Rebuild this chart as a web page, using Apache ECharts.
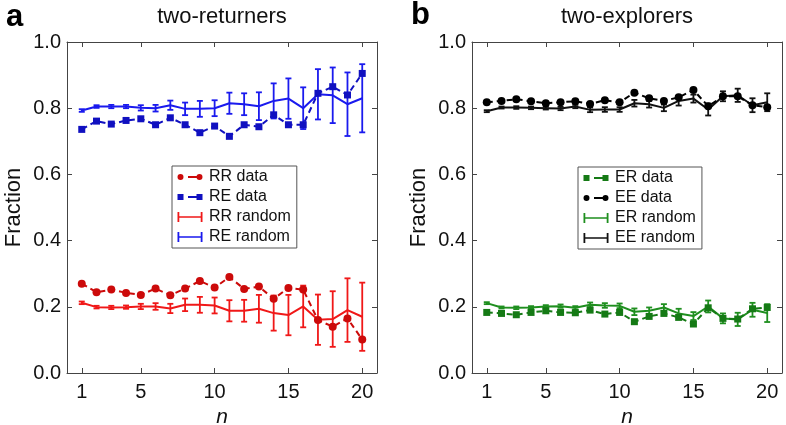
<!DOCTYPE html>
<html>
<head>
<meta charset="utf-8">
<script src="https://cdn.jsdelivr.net/npm/echarts@6/dist/echarts.min.js"></script>
<style>
html,body{margin:0;padding:0;background:#fff;}
#chart{width:786px;height:425px;}
</style>
</head>
<body>
<div id="chart"></div>
<script>
// ---- data ----
const nValues = [1,2,3,4,5,6,7,8,9,10,11,12,13,14,15,16,17,18,19,20];
const xTickLabels = [1,5,10,15,20];
const yTickLabels = [0.0,0.2,0.4,0.6,0.8,1.0];

// panel a: two-returners
const rrData   = [0.270,0.244,0.252,0.242,0.236,0.255,0.235,0.255,0.278,0.258,0.290,0.254,0.261,0.224,0.257,0.252,0.160,0.140,0.165,0.101];
const reData   = [0.736,0.761,0.752,0.763,0.768,0.750,0.771,0.750,0.726,0.746,0.715,0.750,0.744,0.780,0.750,0.750,0.845,0.865,0.840,0.905];
const rrRandom = [0.212,0.199,0.198,0.199,0.201,0.201,0.195,0.206,0.206,0.204,0.188,0.188,0.194,0.181,0.175,0.201,0.161,0.163,0.190,0.170];
const reRandom = [0.793,0.805,0.805,0.805,0.801,0.800,0.809,0.798,0.798,0.800,0.815,0.812,0.806,0.822,0.829,0.800,0.842,0.839,0.812,0.830];
const returnerErr = [0.004,0.004,0.005,0.005,0.008,0.010,0.014,0.019,0.024,0.024,0.032,0.033,0.042,0.053,0.061,0.063,0.076,0.084,0.096,0.103];

// panel b: two-explorers
const erData   = [0.183,0.180,0.176,0.183,0.188,0.183,0.182,0.190,0.178,0.183,0.155,0.171,0.180,0.168,0.148,0.197,0.165,0.163,0.194,0.198];
const eeData   = [0.818,0.822,0.827,0.821,0.815,0.818,0.821,0.813,0.824,0.818,0.847,0.830,0.822,0.833,0.855,0.806,0.836,0.836,0.809,0.803];
const erRandom = [0.211,0.198,0.197,0.198,0.201,0.202,0.197,0.206,0.204,0.203,0.185,0.188,0.198,0.180,0.172,0.201,0.165,0.162,0.191,0.181];
const eeRandom = [0.791,0.802,0.802,0.801,0.800,0.799,0.805,0.795,0.796,0.796,0.815,0.812,0.801,0.822,0.829,0.796,0.836,0.839,0.809,0.818];
const explorerErr = [0.003,0.003,0.004,0.004,0.004,0.005,0.005,0.007,0.007,0.007,0.010,0.010,0.010,0.014,0.012,0.018,0.015,0.020,0.021,0.027];

// ---- styling ----
const FONT = '"Liberation Sans", Arial, Helvetica, sans-serif';
const AX = '#444';
const C = {
  rrData: '#cc0a0a', rrRand: '#f01818',
  reData: '#1010c0', reRand: '#1a1aee',
  erData: '#157a15', erRand: '#1f8f1f',
  eeData: '#000000', eeRand: '#111111'
};

function circ(cx, cy, r) {
  return `M${cx-r},${cy} A${r},${r} 0 1,1 ${cx+r},${cy} A${r},${r} 0 1,1 ${cx-r},${cy} Z `;
}
const corners = 'M0,0 L0.01,0 L0.01,0.01 Z M25.99,11.99 L26,11.99 L26,12 Z ';
const iconCircleData = 'path://' + corners + circ(3.5,6,3) + 'M11,5 L19.6,5 L19.6,7 L11,7 Z ' + circ(22.5,6,3);
const iconSquareData = 'path://' + corners + 'M0.5,3 L6.5,3 L6.5,9 L0.5,9 Z M11,5 L19.5,5 L19.5,7 L11,7 Z M19.5,3 L25.5,3 L25.5,9 L19.5,9 Z';
const iconErrBar = 'path://' + corners + 'M0.5,1 L2.3,1 L2.3,5.2 L23.7,5.2 L23.7,1 L25.5,1 L25.5,11 L23.7,11 L23.7,6.8 L2.3,6.8 L2.3,11 L0.5,11 Z';

function dataSeries(name, vals, color, symbol, g) {
  return {
    type: 'line', name, xAxisIndex: g*2, yAxisIndex: g*2,
    data: nValues.map((n,i)=>[n, vals[i]]),
    symbol, symbolSize: symbol === 'circle' ? 8 : 7,
    itemStyle: {color, borderWidth: 0},
    lineStyle: {color, width: 2, type: [6,4]},
    z: 4, silent: true
  };
}
function randLine(name, vals, color, g) {
  return {
    type: 'line', name, xAxisIndex: g*2, yAxisIndex: g*2,
    data: nValues.map((n,i)=>[n, vals[i]]),
    symbol: 'none', itemStyle: {color},
    lineStyle: {color, width: 2}, z: 3, silent: true
  };
}
function errBars(name, vals, errs, color, g) {
  return {
    type: 'custom', name, xAxisIndex: g*2, yAxisIndex: g*2,
    data: nValues.map((n,i)=>[n, vals[i]-errs[i], vals[i]+errs[i]]),
    encode: {x: 0, y: [1,2]},
    itemStyle: {color}, z: 3, silent: true,
    renderItem(params, api) {
      const x = api.value(0);
      const lo = api.coord([x, api.value(1)]);
      const hi = api.coord([x, api.value(2)]);
      const w = 3;
      const st = {stroke: color, lineWidth: 1.8};
      return {type: 'group', children: [
        {type: 'line', shape: {x1: lo[0], y1: lo[1], x2: hi[0], y2: hi[1]}, style: st},
        {type: 'line', shape: {x1: lo[0]-w, y1: lo[1], x2: lo[0]+w, y2: lo[1]}, style: st},
        {type: 'line', shape: {x1: hi[0]-w, y1: hi[1], x2: hi[0]+w, y2: hi[1]}, style: st}
      ]};
    }
  };
}

function axesFor(g) {
  const common = {gridIndex: g, type: 'value', min: 0, max: 21,
    axisLine: {onZero: false, lineStyle: {color: AX, width: 1}},
    splitLine: {show: false}};
  const xb = Object.assign({}, common, {
    position: 'bottom',
    axisTick: {inside: true, length: 5, customValues: xTickLabels, lineStyle: {color: AX}},
    axisLabel: {customValues: xTickLabels, fontSize: 20, color: '#111', fontFamily: FONT, margin: 9},
    name: 'n', nameLocation: 'middle', nameGap: 31,
    nameTextStyle: {fontSize: 21, fontStyle: 'italic', color: '#111', fontFamily: FONT}
  });
  const xt = Object.assign({}, common, {
    position: 'top',
    axisTick: {inside: true, length: 5, customValues: xTickLabels, lineStyle: {color: AX}},
    axisLabel: {show: false}
  });
  const ycommon = {gridIndex: g, type: 'value', min: 0, max: 1, interval: 0.2,
    axisLine: {show: true, onZero: false, lineStyle: {color: AX, width: 1}},
    splitLine: {show: false}};
  const yl = Object.assign({}, ycommon, {
    position: 'left',
    axisTick: {show: true, inside: true, length: 5, lineStyle: {color: AX}},
    axisLabel: {fontSize: 20, color: '#111', fontFamily: FONT, margin: 6,
      formatter: v => (Math.round(v*10)/10).toFixed(1)},
    name: 'Fraction', nameLocation: 'middle', nameGap: 42, nameRotate: 90,
    nameTextStyle: {fontSize: 22, color: '#111', fontFamily: FONT}
  });
  const yr = Object.assign({}, ycommon, {
    position: 'right',
    axisTick: {show: true, inside: true, length: 5, lineStyle: {color: AX}},
    axisLabel: {show: false}
  });
  return {x: [xb, xt], y: [yl, yr]};
}
const a0 = axesFor(0), a1 = axesFor(1);

const legendCommon = {
  orient: 'vertical', itemWidth: 26, itemHeight: 12, itemGap: 4,
  padding: [3, 6, 3, 5], borderColor: '#555', borderWidth: 1, backgroundColor: '#fff',
  symbolKeepAspect: false, selectedMode: false,
  textStyle: {fontSize: 16, color: '#111', fontFamily: FONT, padding: [0,0,0,1]}
};

const option = {
  animation: false,
  backgroundColor: '#fff',
  grid: [
    {left: 67, right: 409, top: 42, bottom: 52, containLabel: false, outerBoundsMode: 'none'},
    {left: 472, right: 4, top: 42, bottom: 52, containLabel: false, outerBoundsMode: 'none'}
  ],
  xAxis: [a0.x[0], a0.x[1], a1.x[0], a1.x[1]],
  yAxis: [a0.y[0], a0.y[1], a1.y[0], a1.y[1]],
  legend: [
    Object.assign({}, legendCommon, {left: 172, top: 166, data: [
      {name: 'RR data', icon: iconCircleData},
      {name: 'RE data', icon: iconSquareData},
      {name: 'RR random', icon: iconErrBar},
      {name: 'RE random', icon: iconErrBar}
    ]}),
    Object.assign({}, legendCommon, {left: 578, top: 167, data: [
      {name: 'ER data', icon: iconSquareData},
      {name: 'EE data', icon: iconCircleData},
      {name: 'ER random', icon: iconErrBar},
      {name: 'EE random', icon: iconErrBar}
    ]})
  ],
  graphic: [
    {type: 'text', x: 6, y: 2, style: {text: 'a', font: 'bold 31px ' + FONT, fill: '#000'}},
    {type: 'text', x: 411, y: 0, style: {text: 'b', font: 'bold 31px ' + FONT, fill: '#000'}},
    {type: 'text', x: 222, y: 6, style: {text: 'two-returners', font: '22px ' + FONT, fill: '#111', textAlign: 'center', align: 'center'}},
    {type: 'text', x: 627, y: 6, style: {text: 'two-explorers', font: '22px ' + FONT, fill: '#111', textAlign: 'center', align: 'center'}}
  ],
  series: [
    randLine('RR random', rrRandom, C.rrRand, 0),
    errBars('RR random', rrRandom, returnerErr, C.rrRand, 0),
    randLine('RE random', reRandom, C.reRand, 0),
    errBars('RE random', reRandom, returnerErr, C.reRand, 0),
    dataSeries('RR data', rrData, C.rrData, 'circle', 0),
    dataSeries('RE data', reData, C.reData, 'rect', 0),

    randLine('ER random', erRandom, C.erRand, 1),
    errBars('ER random', erRandom, explorerErr, C.erRand, 1),
    randLine('EE random', eeRandom, C.eeRand, 1),
    errBars('EE random', eeRandom, explorerErr, C.eeRand, 1),
    dataSeries('ER data', erData, C.erData, 'rect', 1),
    dataSeries('EE data', eeData, C.eeData, 'circle', 1)
  ]
};

const chart = echarts.init(document.getElementById('chart'), null, {renderer: 'canvas'});
chart.setOption(option);
</script>
</body>
</html>
